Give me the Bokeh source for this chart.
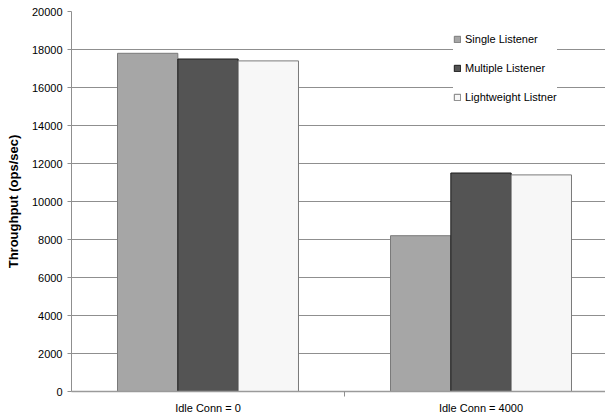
from bokeh.plotting import figure
from bokeh.models import Range1d, FixedTicker, Legend, LegendItem
from bokeh.embed import file_html
from bokeh.resources import INLINE

# Throughput per idle-connection scenario
categories = ["Idle Conn = 0", "Idle Conn = 4000"]
series_names = ["Single Listener", "Multiple Listener", "Lightweight Listner"]
single_listener = [17800, 8200]
multiple_listener = [17500, 11500]
lightweight_listener = [17400, 11400]
y_ticks = [0, 2000, 4000, 6000, 8000, 10000, 12000, 14000, 16000, 18000, 20000]

series_values = [single_listener, multiple_listener, lightweight_listener]
fills = ["#a6a6a6", "#545454", "#f7f7f7"]
borders = ["#7a7a7a", "#1a1a1a", "#7a7a7a"]

FONT = "Arial, 'Liberation Sans', sans-serif"
bar_w = 0.221
offsets = [-bar_w, 0.0, bar_w]
centers = [i + 0.5 for i in range(len(categories))]

p = figure(
    frame_width=534, frame_height=380,
    min_border_left=71, min_border_right=0, min_border_top=11, min_border_bottom=0,
    x_range=Range1d(0, 2 * 534 / 546), y_range=Range1d(0, 20000),
    output_backend="svg", toolbar_location=None,
    background_fill_color="white", border_fill_color="white",
)
p.outline_line_color = None

# grid
p.xgrid.grid_line_color = None
p.ygrid.grid_line_color = "#8f8f8f"
p.ygrid.grid_line_width = 1
p.ygrid.ticker = FixedTicker(ticks=y_ticks)

# y axis
p.yaxis.ticker = FixedTicker(ticks=y_ticks)
p.yaxis.axis_label = "Throughput (ops/sec)"
p.yaxis.axis_label_text_font = FONT
p.yaxis.axis_label_text_font_style = "bold"
p.yaxis.axis_label_text_font_size = "13px"
p.yaxis.axis_label_text_color = "#000000"
p.yaxis.axis_label_standoff = 8
p.yaxis.major_label_text_font = FONT
p.yaxis.major_label_text_font_size = "11px"
p.yaxis.major_label_text_color = "#000000"
p.yaxis.major_label_standoff = 5
p.yaxis.axis_line_color = "#8f8f8f"
p.yaxis.major_tick_line_color = "#8f8f8f"
p.yaxis.major_tick_out = 4
p.yaxis.major_tick_in = 0
p.yaxis.minor_tick_line_color = None

# x axis: labels at category centres, a small tick at the category boundary
p.xaxis.ticker = FixedTicker(ticks=centers, minor_ticks=[1.0])
p.xaxis.major_label_overrides = {c: name for c, name in zip(centers, categories)}
p.xaxis.major_label_text_font = FONT
p.xaxis.major_label_text_font_size = "11px"
p.xaxis.major_label_text_color = "#000000"
p.xaxis.major_label_standoff = 5
p.xaxis.major_tick_line_color = None
p.xaxis.major_tick_out = 0
p.xaxis.major_tick_in = 0
p.xaxis.minor_tick_line_color = "#8f8f8f"
p.xaxis.minor_tick_out = 5
p.xaxis.minor_tick_in = 0
p.xaxis.axis_line_color = "#9a9a9a"
p.xaxis.axis_line_width = 1.5

items = []
for name, vals, off, fc, lc in zip(series_names, series_values, offsets, fills, borders):
    xs = [c + off for c in centers]
    r = p.vbar(x=xs, top=vals, width=bar_w, bottom=0,
               fill_color=fc, line_color=lc, line_width=1)
    items.append(LegendItem(label=name, renderers=[r]))

legend = Legend(
    items=items, location=(382, 287),
    label_text_font=FONT, label_text_font_size="11px", label_text_color="#000000",
    glyph_width=8, glyph_height=8, label_height=14, label_standoff=4,
    spacing=15, padding=24, margin=0,
    background_fill_color="white", background_fill_alpha=1.0,
    border_line_color=None,
)
p.add_layout(legend, "center")

open("out.html", "w").write(file_html(p, INLINE))
